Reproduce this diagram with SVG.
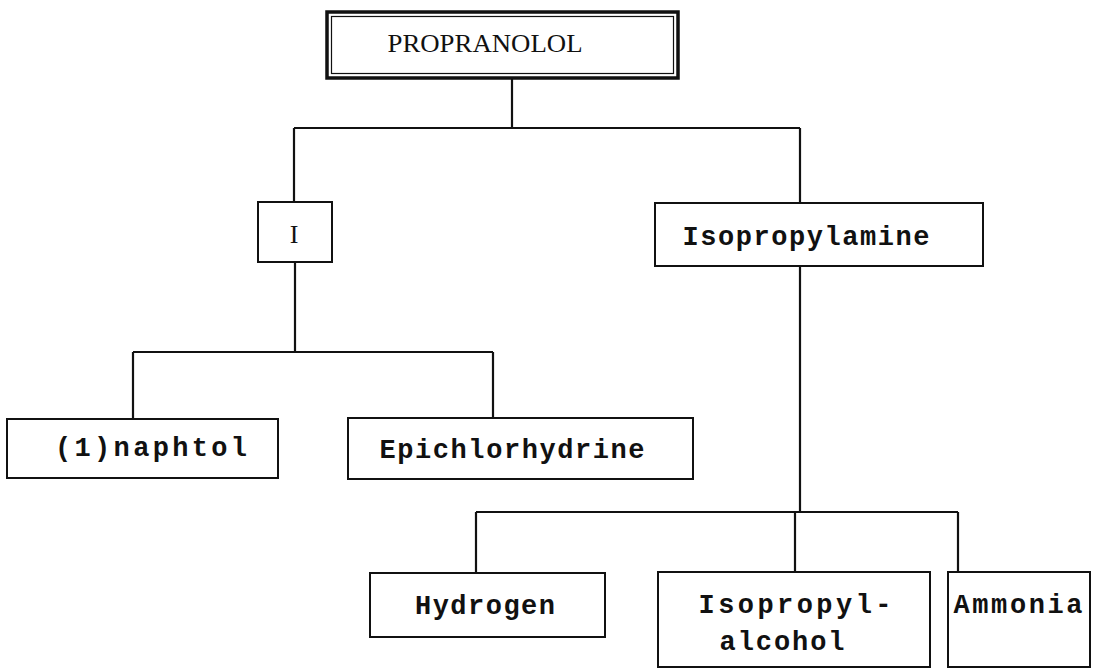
<svg xmlns="http://www.w3.org/2000/svg" width="1093" height="670" viewBox="0 0 1093 670">
<style>
.box{fill:#fff;stroke:#111;stroke-width:2}
.ln{fill:none;stroke:#111;stroke-width:2.2}
.t{font-family:"Liberation Mono",monospace;font-weight:bold;font-size:27px;fill:#111;text-anchor:middle}
.s{font-family:"Liberation Serif",serif;font-size:26px;fill:#111;text-anchor:middle}
</style>
<rect width="1093" height="670" fill="#fff"/>
<g id="connectors">
<path class="ln" d="M512 78V128M294 128H800M294 128V202M800 128V203"/>
<path class="ln" d="M295 262V352M133 352H493M133 352V419M493 352V418"/>
<path class="ln" d="M800 266V512M476 512H958M476 512V573M795 512V572M958 512V572"/>
</g>
<g id="propranolol">
<rect x="327" y="12" width="351" height="66" fill="#fff" stroke="#111" stroke-width="3.5"/>
<rect x="331.5" y="16.5" width="342" height="57" fill="none" stroke="#111" stroke-width="1.2"/>
<text class="s" x="485" y="52" textLength="195" lengthAdjust="spacingAndGlyphs">PROPRANOLOL</text>
</g>
<g id="I">
<rect class="box" x="258" y="202" width="74" height="60"/>
<text class="s" x="294" y="243" font-size="24">I</text>
</g>
<g id="isopropylamine">
<rect class="box" x="655" y="203" width="328" height="63"/>
<text class="t" x="806" y="245" textLength="247" lengthAdjust="spacing">Isopropylamine</text>
</g>
<g id="naphtol">
<rect class="box" x="7" y="419" width="271" height="59"/>
<text class="t" x="151" y="456" textLength="192" lengthAdjust="spacing">(1)naphtol</text>
</g>
<g id="epichlorhydrine">
<rect class="box" x="348" y="418" width="345" height="61"/>
<text class="t" x="512" y="458" textLength="265" lengthAdjust="spacing">Epichlorhydrine</text>
</g>
<g id="hydrogen">
<rect class="box" x="370" y="573" width="235" height="64"/>
<text class="t" x="485" y="614" textLength="140" lengthAdjust="spacing">Hydrogen</text>
</g>
<g id="isopropylalcohol">
<rect class="box" x="658" y="572" width="272" height="95"/>
<text class="t" x="795" y="613" textLength="193" lengthAdjust="spacing">Isopropyl-</text>
<text class="t" x="782" y="650" textLength="125" lengthAdjust="spacing">alcohol</text>
</g>
<g id="ammonia">
<rect class="box" x="948" y="572" width="142" height="95"/>
<text class="t" x="1018" y="613" textLength="129" lengthAdjust="spacing">Ammonia</text>
</g>
</svg>
